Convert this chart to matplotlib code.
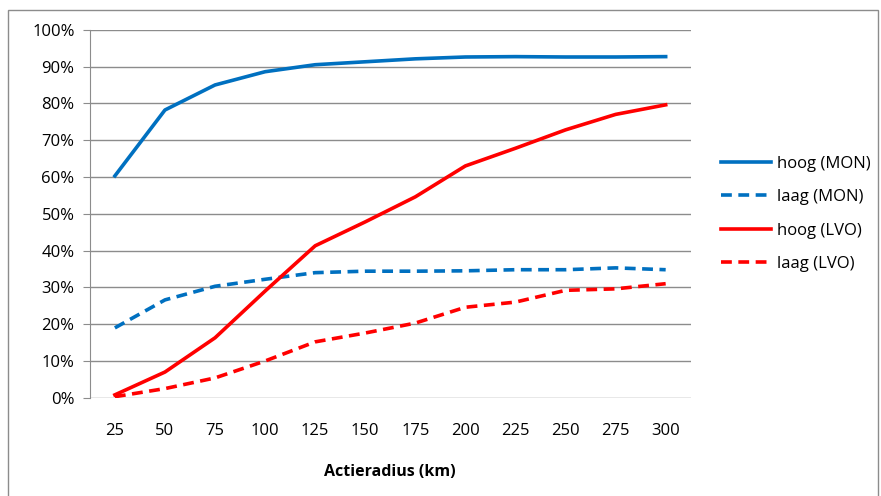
import matplotlib.pyplot as plt
from matplotlib.patches import Rectangle
from matplotlib.ticker import PercentFormatter

plt.rcParams['font.family'] = ['Open Sans', 'DejaVu Sans']

# Data
radius = [25, 50, 75, 100, 125, 150, 175, 200, 225, 250, 275, 300]
hoog_mon = [60.3, 78.2, 85.0, 88.6, 90.5, 91.3, 92.1, 92.6, 92.7, 92.6, 92.6, 92.7]
laag_mon = [19.0, 26.6, 30.3, 32.2, 34.0, 34.4, 34.4, 34.5, 34.8, 34.8, 35.3, 34.8]
hoog_lvo = [0.8, 7.0, 16.3, 29.0, 41.3, 47.8, 54.6, 63.0, 67.8, 72.8, 77.0, 79.6]
laag_lvo = [0.3, 2.5, 5.4, 10.0, 15.2, 17.6, 20.3, 24.6, 26.0, 29.2, 29.6, 31.0]

blue = '#0070C0'
red = '#FF0000'

fig = plt.figure(figsize=(8.81, 4.96), dpi=100)
ax = fig.add_axes([0.102, 0.198, 0.682, 0.742])

pos = range(len(radius))
ax.plot(pos, hoog_mon, color=blue, lw=2.6, label='hoog (MON)')
ax.plot(pos, laag_mon, color=blue, lw=2.6, ls=(0, (3, 1.8)), label='laag (MON)')
ax.plot(pos, hoog_lvo, color=red, lw=2.6, label='hoog (LVO)')
ax.plot(pos, laag_lvo, color=red, lw=2.6, ls=(0, (3, 1.8)), label='laag (LVO)')

ax.set_xlim(-0.5, len(radius) - 0.5)
ax.set_ylim(0, 100)
ax.set_xticks(list(pos))
ax.set_xticklabels([str(r) for r in radius])
ax.set_yticks(range(0, 101, 10))
ax.yaxis.set_major_formatter(PercentFormatter(decimals=0))
ax.grid(axis='y', color='#8c8c8c', lw=1)
ax.set_axisbelow(True)
ax.tick_params(axis='x', length=0, pad=18, labelsize=12)
ax.tick_params(axis='y', length=5, color='#8c8c8c', labelsize=12, pad=6)
for s in ['top', 'right', 'bottom']:
    ax.spines[s].set_visible(False)
ax.spines['left'].set_color('#8c8c8c')
ax.set_xlabel('Actieradius (km)', fontsize=11.5, fontweight='bold', labelpad=18)

ax.legend(loc='center left', bbox_to_anchor=(1.025, 0.5), frameon=False,
          fontsize=12, handlelength=3.0, handletextpad=0.4, labelspacing=1.05)

# outer chart border
fig.patches.append(Rectangle((8 / 881, -0.01), 870 / 881, 1 - 10 / 496 + 0.01,
                             transform=fig.transFigure, fill=False,
                             edgecolor='#8c8c8c', lw=1))

plt.savefig('out.png', dpi=100)
